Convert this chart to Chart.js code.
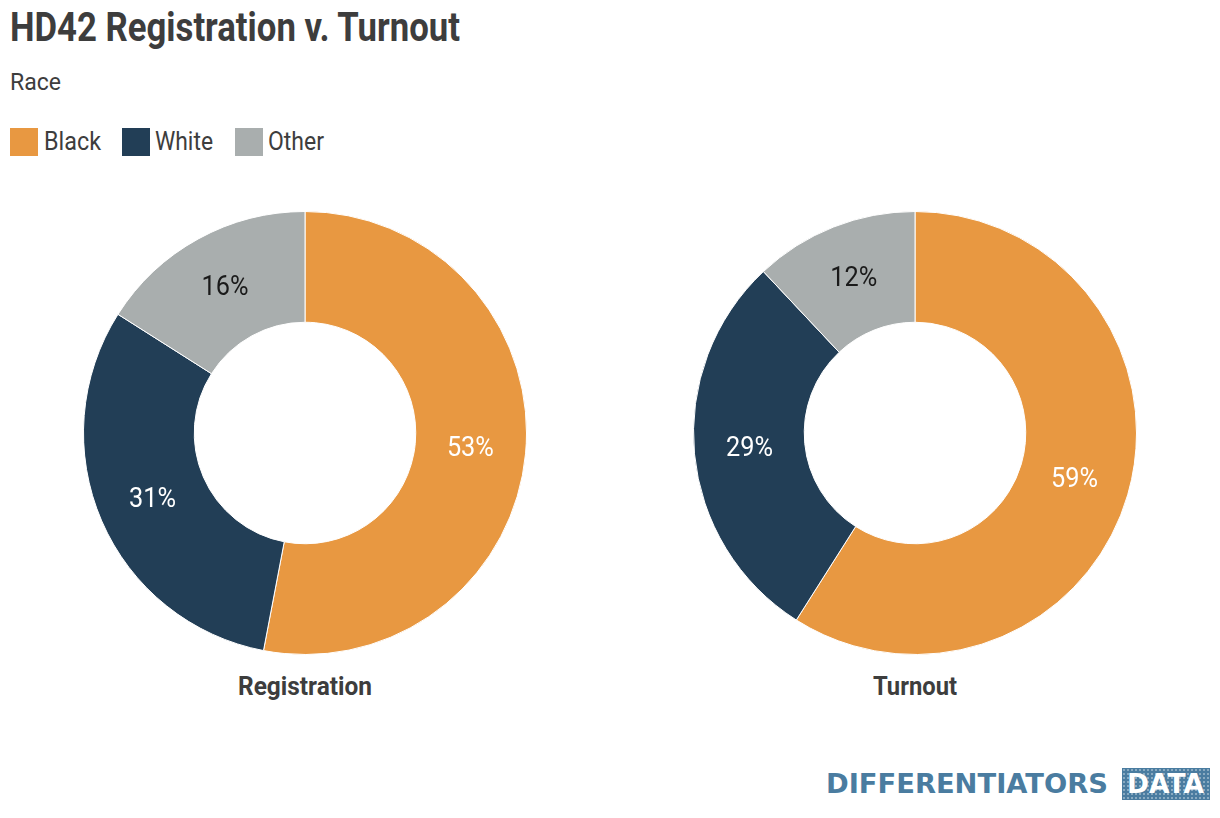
<!DOCTYPE html>
<html>
<head>
<meta charset="utf-8">
<script src="https://cdn.jsdelivr.net/npm/chart.js@4.4.0/dist/chart.umd.min.js"></script>
<style>
  body { margin: 0; background: #fff; width: 1220px; height: 818px; overflow: hidden; position: relative;
         font-family: Roboto, sans-serif; color: #3d3d3d; }
  .txt { position: absolute; white-space: nowrap; transform-origin: 0 0; line-height: 1; }
  #title { left: 10px; top: 8px; font-size: 40px; font-weight: bold; }
  #subtitle { left: 10px; top: 70px; font-size: 24px; }
  .sw { position: absolute; top: 128px; width: 28px; height: 28px; }
  .lgt { top: 128px; font-size: 26px; }
  .box { position: absolute; top: 211px; width: 444px; height: 444px; }
  .cap { top: 673px; font-size: 26px; font-weight: bold; }
  #logoT { left: 826px; top: 771px; font-family: "DejaVu Sans", sans-serif; font-weight: bold; font-size: 26px; color: #4a7ca0; }
  #logoBox { position: absolute; left: 1122px; top: 768px; width: 88px; height: 32px; background: #4a7ca0;
             background-image: radial-gradient(rgba(255,255,255,0.35) 1px, transparent 1.3px); background-size: 4px 4px; }
  #logoD { left: 1127px; top: 771px; font-family: "DejaVu Sans", sans-serif; font-weight: bold; font-size: 26px; color: #fff; }
</style>
</head>
<body>
<div id="title" class="txt" data-w="450">HD42 Registration v. Turnout</div>
<div id="subtitle" class="txt" data-w="51">Race</div>
<div id="legend"></div>

<div class="box" style="left:83px"><canvas id="regChart"></canvas></div>
<div class="box" style="left:693px"><canvas id="turnChart"></canvas></div>
<div class="txt cap" style="left:238px" data-w="134">Registration</div>
<div class="txt cap" style="left:873px" data-w="84">Turnout</div>

<div id="logoT" class="txt" data-w="282">DIFFERENTIATORS</div>
<div id="logoBox"></div>
<div id="logoD" class="txt" data-w="77">DATA</div>

<script>
// data
const races = ['Black', 'White', 'Other'];
const registration = [53, 31, 16];
const turnout = [59, 29, 12];
const raceColors = ['#e89841', '#223e56', '#a9aeae'];
const labelColors = ['#ffffff', '#ffffff', '#1a1a1a'];

// legend (swatch x, text x, text width)
const legendSpots = [[10, 44, 57], [122, 155, 58], [235, 268, 56]];
const legend = document.getElementById('legend');
races.forEach((r, i) => {
    const [sx, tx, tw] = legendSpots[i];
    legend.innerHTML += `<div class="sw" style="left:${sx}px;background:${raceColors[i]}"></div>` +
        `<div class="txt lgt" style="left:${tx}px" data-w="${tw}">${r}</div>`;
});

// squeeze text horizontally so the normal font looks condensed like the original
document.querySelectorAll('.txt[data-w]').forEach(el => {
    const w = el.getBoundingClientRect().width;
    el.style.transform = `scaleX(${(+el.dataset.w / w).toFixed(4)})`;
});

// draws "53%" etc in the middle of each slice
const sliceLabels = {
    id: 'sliceLabels',
    afterDatasetsDraw(chart) {
        const ctx = chart.ctx;
        const meta = chart.getDatasetMeta(0);
        ctx.save();
        ctx.font = '27px Roboto, sans-serif';
        ctx.textAlign = 'center';
        ctx.textBaseline = 'middle';
        const sx = 47 / ctx.measureText('53%').width;
        meta.data.forEach((arc, i) => {
            const p = arc.tooltipPosition();
            ctx.save();
            ctx.translate(p.x, p.y + 1);
            ctx.scale(sx, 1);
            ctx.fillStyle = labelColors[i];
            ctx.fillText(chart.data.datasets[0].data[i] + '%', 0, 0);
            ctx.restore();
        });
        ctx.restore();
    }
};

function makeDonut(id, values) {
    return new Chart(document.getElementById(id), {
        type: 'doughnut',
        data: { labels: races, datasets: [{ data: values, backgroundColor: raceColors, borderColor: '#ffffff', borderWidth: 1 }] },
        options: {
            responsive: true, maintainAspectRatio: false, animation: false,
            cutout: '50%',
            layout: { padding: 0 },
            plugins: { legend: { display: false }, tooltip: { enabled: false } }
        },
        plugins: [sliceLabels]
    });
}

makeDonut('regChart', registration);
makeDonut('turnChart', turnout);
</script>
</body>
</html>
